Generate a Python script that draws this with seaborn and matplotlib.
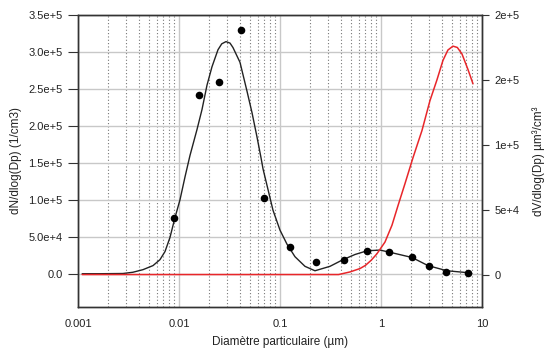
import matplotlib
matplotlib.use("Agg")
import matplotlib.pyplot as plt
import seaborn as sns
from matplotlib.ticker import LogLocator, NullFormatter

# measured particle counts (dots, left axis)
dp_points = [0.009, 0.0158, 0.0249, 0.0411, 0.0695, 0.126, 0.227, 0.43,
             0.73, 1.2, 2.03, 2.98, 4.4, 7.26]
dn_points = [7.5e4, 2.42e5, 2.59e5, 3.3e5, 1.03e5, 3.6e4, 1.6e4, 1.9e4,
             3.1e4, 2.9e4, 2.2e4, 1.1e4, 3.0e3, 1.5e3]

# fitted number distribution (black line, left axis)
dp_fit = [0.0011, 0.00165, 0.00279, 0.0035, 0.0044, 0.00553, 0.00648, 0.00727,
          0.00814, 0.00913, 0.01023, 0.01147, 0.01285, 0.01507, 0.01689, 0.01893,
          0.02122, 0.02433, 0.0265, 0.02919, 0.032, 0.03424, 0.04018, 0.04713, 0.05282,
          0.05921, 0.06487, 0.06789, 0.07607, 0.08524, 0.1, 0.1173, 0.1408, 0.1768,
          0.222, 0.3126, 0.4205, 0.5527, 0.7272, 0.9775, 1.228, 2.027, 2.919, 4.503, 7.27]
dn_fit = [0, 0, 300, 2000, 5500, 1.1e4, 1.9e4, 3.0e4,
          4.9e4, 7.6e4, 1.0e5, 1.31e5, 1.6e5, 1.95e5, 2.22e5, 2.55e5,
          2.8e5, 3.03e5, 3.11e5, 3.14e5, 3.12e5, 3.06e5, 2.86e5, 2.47e5, 2.18e5,
          1.85e5, 1.57e5, 1.42e5, 1.14e5, 8.6e4, 5.9e4, 4.0e4, 2.3e4, 1.0e4,
          4.0e3, 1.0e4, 1.9e4, 2.6e4, 3.1e4, 3.2e4, 2.9e4, 2.2e4, 1.1e4, 4.0e3, 1.4e3]

# volume distribution (red line, right axis)
dp_vol = [0.0011, 0.1, 0.38, 0.493, 0.619, 0.70, 0.80, 0.912, 1.095, 1.285, 1.473,
          1.728, 2.074, 2.547, 3.055, 3.583, 4.11, 4.6, 5.16, 5.7, 6.34, 7.27, 8.15]
dv_vol = [0, 0, 0, 2.0e3, 4.6e3, 7.0e3, 1.1e4, 1.6e4, 2.5e4, 3.8e4, 5.3e4,
          7.0e4, 9.0e4, 1.11e5, 1.34e5, 1.5e5, 1.65e5, 1.73e5, 1.76e5, 1.75e5,
          1.7e5, 1.58e5, 1.47e5]

left_ticks = [0, 5e4, 1e5, 1.5e5, 2e5, 2.5e5, 3e5, 3.5e5]
left_ticklabels = ["0.0", "5.0e+4", "1.0e+5", "1.5e+5", "2.0e+5", "2.5e+5", "3.0e+5", "3.5e+5"]
right_ticks = [0, 5e4, 1e5, 1.5e5, 2e5]
right_ticklabels = ["0", "5e+4", "1e+5", "2e+5", "2e+5"]
x_ticks = [0.001, 0.01, 0.1, 1, 10]
x_ticklabels = ["0.001", "0.01", "0.1", "1", "10"]

sns.set_style("white")
plt.rcParams['font.family'] = ['Liberation Sans', 'DejaVu Sans']

fig = plt.figure(figsize=(5.47, 3.54), dpi=100)
ax = fig.add_axes([0.1426, 0.1328, 0.7385, 0.8248])
ax2 = ax.twinx()

sns.lineplot(x=dp_fit, y=dn_fit, ax=ax, color='#222222', lw=1.0, sort=False)
sns.scatterplot(x=dp_points, y=dn_points, ax=ax, color='black', s=30,
                edgecolor='black', linewidth=0, zorder=5)
sns.lineplot(x=dp_vol, y=dv_vol, ax=ax2, color='#e8262a', lw=1.1, sort=False)

ax.set_xscale('log')
ax.set_xlim(0.001, 10)
ax.set_ylim(-4.5e4, 3.5e5)
ax2.set_ylim(-2.5e4, 2.0e5)

# grid
ax.set_yticks(left_ticks)
ax.set_yticklabels(left_ticklabels)
ax.set_xticks(x_ticks)
ax.set_xticklabels(x_ticklabels)
ax.xaxis.set_minor_locator(LogLocator(base=10, subs=range(2, 10)))
ax.xaxis.set_minor_formatter(NullFormatter())
ax.grid(True, which='major', axis='both', color='#c8c8c8', lw=1.0)
ax.grid(True, which='minor', axis='x', color='#777777', lw=0.8, linestyle=(0, (1, 2)))
ax.set_axisbelow(True)

ax2.set_yticks(right_ticks)
ax2.set_yticklabels(right_ticklabels)
ax2.grid(False)

for a in (ax, ax2):
    for s in a.spines.values():
        s.set_color('#333333')
        s.set_linewidth(1.0)
    a.tick_params(axis='both', which='major', direction='out', length=5, width=0.8,
                  colors='#333333', labelsize=8, labelcolor='#222222', pad=3)
ax.tick_params(axis='x', which='minor', length=0)
ax.tick_params(axis='x', which='major', length=4, pad=5)
ax.tick_params(axis='y', which='major', length=7, pad=4)
ax2.tick_params(axis='y', which='major', length=5, pad=4)

ax.set_xlabel('Diamètre particulaire (µm)', fontsize=8.5, color='#222222', labelpad=5)
ax.set_ylabel('dN/dlog(Dp) (1/cm3)', fontsize=8.5, color='#222222', labelpad=5)
ax2.set_ylabel('dV/dlog(Dp) µm³/cm³', fontsize=8.5, color='#222222', labelpad=9)

fig.savefig('out.png', dpi=100)
